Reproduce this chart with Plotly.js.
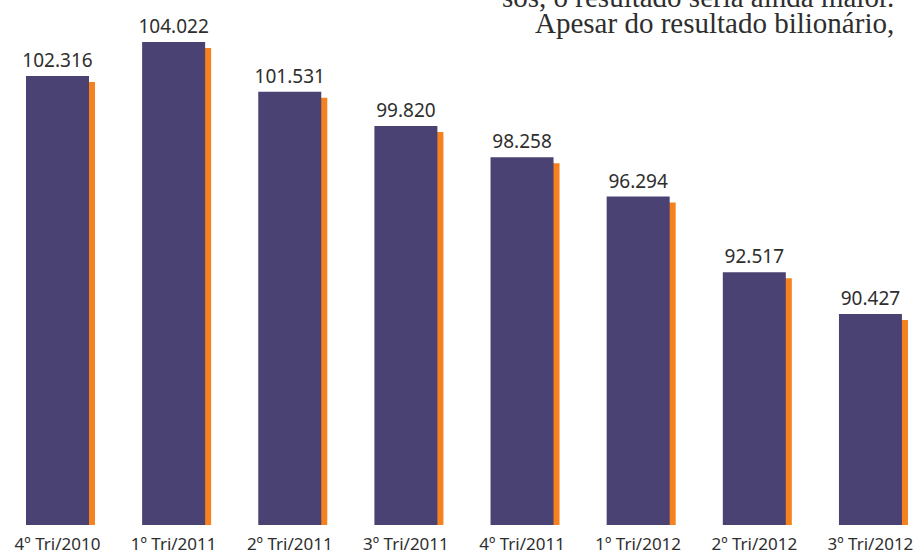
<!DOCTYPE html>
<html>
<head>
<meta charset="utf-8">
<script src="https://cdn.plot.ly/plotly-3.0.1.min.js"></script>
<style>html,body{margin:0;padding:0;background:#fff;}#chart{width:914px;height:553px;}</style>
</head>
<body>
<div id="chart"></div>
<script>
// Data
const categories = ["4º Tri/2010", "1º Tri/2011", "2º Tri/2011", "3º Tri/2011", "4º Tri/2011", "1º Tri/2012", "2º Tri/2012", "3º Tri/2012"];
const values = [102.316, 104.022, 101.531, 99.820, 98.258, 96.294, 92.517, 90.427];
const noteLines = ["sos, o resultado seria ainda maior.", "Apesar do resultado bilionário,"];

// Styling / layout constants
const purple = "#4a4272";
const orange = "#f5821f";
const textColor = "#2e2e2e";
const xRange = [-0.495, 7.375];
const yRange = [79.88, 106.12];
const shadowDx = 0.0517;   // ~6 px to the right
const shadowDy = 0.3;      // ~6 px downward
const barWidth = 0.5425;

const shadow = {
  type: "bar", x: categories, y: values, xaxis: "x", yaxis: "y",
  width: barWidth, marker: {color: orange, line: {width: 0}},
  hoverinfo: "skip", showlegend: false
};
const bars = {
  type: "bar", x: categories, y: values, xaxis: "x2", yaxis: "y2",
  width: barWidth, marker: {color: purple, line: {width: 0}},
  texttemplate: "%{y:.3f}", textposition: "outside", cliponaxis: false,
  constraintext: "none",
  textfont: {family: "Noto Sans, Liberation Sans, sans-serif", size: 19, color: textColor},
  hoverinfo: "x+y", showlegend: false
};

const layout = {
  width: 914, height: 553,
  margin: {l: 0, r: 0, t: 0, b: 28, pad: 0},
  paper_bgcolor: "#fff", plot_bgcolor: "rgba(0,0,0,0)",
  showlegend: false,
  xaxis: {type: "category", range: [xRange[0] - shadowDx, xRange[1] - shadowDx],
          showticklabels: false, showgrid: false, zeroline: false, showline: false, ticks: ""},
  yaxis: {range: [yRange[0] + shadowDy, yRange[1] + shadowDy],
          showticklabels: false, showgrid: false, zeroline: false, showline: false, ticks: ""},
  xaxis2: {type: "category", overlaying: "x", anchor: "y2", range: xRange,
           showgrid: false, zeroline: false, showline: false, ticks: "",
           ticklabelstandoff: 7,
           tickfont: {family: "Noto Sans, Liberation Sans, sans-serif", size: 17, color: textColor}},
  yaxis2: {overlaying: "y", anchor: "x2", range: yRange,
           showticklabels: false, showgrid: false, zeroline: false, showline: false, ticks: ""},
  annotations: [
    {text: noteLines[0], xref: "paper", yref: "paper", x: 896/914, y: 1.006,
     xanchor: "right", yanchor: "middle", showarrow: false,
     font: {family: "Liberation Serif, serif", size: 29, color: textColor}},
    {text: noteLines[1], xref: "paper", yref: "paper", x: 896/914, y: 0.957,
     xanchor: "right", yanchor: "middle", showarrow: false,
     font: {family: "Liberation Serif, serif", size: 29, color: textColor}}
  ]
};

Plotly.newPlot("chart", [shadow, bars], layout, {displayModeBar: false, staticPlot: true});
</script>
</body>
</html>
